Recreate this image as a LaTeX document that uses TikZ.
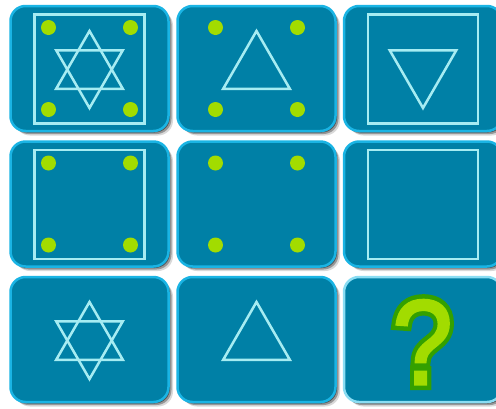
\documentclass[tikz,border=0pt]{standalone}
\usepackage{fontspec}
\newfontfamily\qfont{Liberation Sans}[FakeBold=2.5]
\newfontfamily\qfontbold{Liberation Sans}[FakeBold=10]
\usetikzlibrary{shadows,calc}
\definecolor{tilefill}{HTML}{0080A6}
\definecolor{tileedge}{HTML}{1AB4E4}
\definecolor{qedge}{HTML}{8ADDF3}
\definecolor{linec}{HTML}{A6ECF2}
\definecolor{dotc}{HTML}{A2DC00}
\definecolor{qdark}{HTML}{33A000}
\tikzset{
  tile/.style={draw=tileedge, line width=2.5pt, fill=tilefill, rounded corners=15pt,
    minimum width=158pt, minimum height=125pt, inner sep=0pt,
    drop shadow={shadow xshift=1.5pt, shadow yshift=-1.5pt, opacity=.45, fill=black},
    drop shadow={shadow xshift=3pt, shadow yshift=-3pt, opacity=.3, fill=black},
    drop shadow={shadow xshift=4.5pt, shadow yshift=-4.5pt, opacity=.15, fill=black}},
  qtile/.style={tile, draw=qedge},
  figline/.style={draw=linec, line width=2.5pt},
  gdot/.style={fill=dotc},
  qmark/.style={anchor=base, inner sep=0pt, font=\fontsize{120}{120}\selectfont}
}
\newcommand{\sqfig}[1]{\draw[figline] ($(#1)+(-55,-54)$) rectangle ($(#1)+(55,55)$);}
\newcommand{\dotsfig}[1]{\foreach \dx in {-41,41}{\foreach \dy in {-41,41}{\fill[gdot] ($(#1)+(\dx,\dy)$) circle[radius=7.5pt];}}}
\newcommand{\uptri}[1]{\draw[figline] ($(#1)+(0,-37.5)$) -- ($(#1)+(-33.3,20.25)$) -- ($(#1)+(33.3,20.25)$) -- cycle;}
\newcommand{\dntri}[1]{\draw[figline] ($(#1)+(0,39.5)$) -- ($(#1)+(-33.3,-18.25)$) -- ($(#1)+(33.3,-18.25)$) -- cycle;}
\begin{document}
\begin{tikzpicture}[x=1pt,y=-1pt]
\useasboundingbox (0,0) rectangle (496,408);
\clip (0,0) rectangle (496,408);
\fill[white] (0,0) rectangle (496,408);
% tiles
\node[tile] (t11) at (89.5,68.5) {};
\node[tile] (t12) at (256.5,68.5) {};
\node[tile] (t13) at (423,68.5) {};
\node[tile] (t21) at (89.5,204) {};
\node[tile] (t22) at (256.5,204) {};
\node[tile] (t23) at (423,204) {};
\node[tile] (t31) at (89.5,339.5) {};
\node[tile] (t32) at (256.5,339.5) {};
\node[qtile] (t33) at (423,339.5) {};
% row 1
\sqfig{t11}\dotsfig{t11}\uptri{t11}\dntri{t11}
\dotsfig{t12}\uptri{t12}
\sqfig{t13}\dntri{t13}
% row 2
\sqfig{t21}\dotsfig{t21}
\dotsfig{t22}
\sqfig{t23}
% row 3
\uptri{t31}\dntri{t31}
\uptri{t32}
\coordinate (qbase) at ($(t33.center)+(-0.5,44.5)$);
\node[qmark, text=qdark] (qo) at (qbase) {\scalebox{0.9}[1]{\qfontbold ?}};
\node[qmark, text=dotc] (q) at (qbase) {\scalebox{0.9}[1]{\qfont ?}};
\end{tikzpicture}
\end{document}
